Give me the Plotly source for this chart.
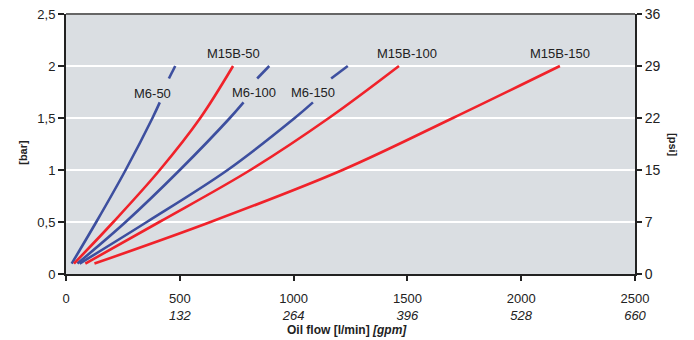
import plotly.graph_objects as go

# ---- data ----
flow_ticks = [0, 500, 1000, 1500, 2000, 2500]
gpm_ticks = ["", "132", "264", "396", "528", "660"]
bar_ticks = [0, 0.5, 1, 1.5, 2, 2.5]
bar_tick_text = ["0", "0,5", "1", "1,5", "2", "2,5"]
psi_tick_text = ["0", "7", "15", "22", "29", "36"]

# blue (M6) curves: solid part and short dashed part near top
m6_bar_solid = [0.1, 0.5, 1.0, 1.5, 1.65]
m6_bar_dash = [1.88, 2.0]
m6_50_flow = [25, 133, 262, 380, 412]
m6_50_dash = [452, 480]
m6_100_flow = [50, 262, 500, 720, 780]
m6_100_dash = [840, 893]
m6_150_flow = [60, 355, 710, 1005, 1085]
m6_150_dash = [1165, 1238]

# red (M15B) curves
m15_bar = [0.1, 0.5, 1.0, 1.5, 2.0]
m15b_50_flow = [35, 208, 412, 590, 734]
m15b_100_flow = [85, 410, 810, 1155, 1463]
m15b_150_flow = [125, 635, 1215, 1700, 2170]

label_names = ["M6-50", "M15B-50", "M6-100", "M6-150", "M15B-100", "M15B-150"]
label_x = [378, 734, 826, 1086, 1498, 2170]
label_y = [1.74, 2.12, 1.75, 1.75, 2.12, 2.12]

BLUE = "#3d4f9f"
RED = "#f0222a"
FONT = "Liberation Sans, Arial, sans-serif"

fig = go.Figure()

for fl, dash in [(m6_50_flow, m6_50_dash), (m6_100_flow, m6_100_dash), (m6_150_flow, m6_150_dash)]:
    fig.add_trace(go.Scatter(x=fl, y=m6_bar_solid, mode="lines",
                             line=dict(color=BLUE, width=2.6, shape="spline", smoothing=1),
                             showlegend=False, hoverinfo="skip"))
    fig.add_trace(go.Scatter(x=dash, y=m6_bar_dash, mode="lines",
                             line=dict(color=BLUE, width=2.6),
                             showlegend=False, hoverinfo="skip"))

for fl in [m15b_50_flow, m15b_100_flow, m15b_150_flow]:
    fig.add_trace(go.Scatter(x=fl, y=m15_bar, mode="lines",
                             line=dict(color=RED, width=2.6, shape="spline", smoothing=1),
                             showlegend=False, hoverinfo="skip"))

# invisible trace to activate right axis
fig.add_trace(go.Scatter(x=[0], y=[0], yaxis="y2", mode="markers",
                         marker=dict(opacity=0), showlegend=False, hoverinfo="skip"))

for name, lx, ly in zip(label_names, label_x, label_y):
    fig.add_annotation(x=lx, y=ly, text=name, showarrow=False,
                       xanchor="center", yanchor="middle",
                       font=dict(family=FONT, size=13, color="#222"))

x_tick_text = [f"{f}" if g == "" else f"{f}<br><i>{g}</i>" for f, g in zip(flow_ticks, gpm_ticks)]

fig.update_layout(
    width=694, height=340,
    margin=dict(l=66, r=59, t=14, b=66),
    paper_bgcolor="white",
    plot_bgcolor="#dadee2",
    font=dict(family=FONT, size=13, color="#222"),
    xaxis=dict(range=[0, 2500], tickvals=flow_ticks, ticktext=x_tick_text,
               showgrid=False, zeroline=False, showline=True, linecolor="#222",
               linewidth=2, ticks="outside", ticklen=5, tickwidth=2, tickcolor="#222",
               tickfont=dict(size=13), automargin=False, ticklabelstandoff=6),
    yaxis=dict(range=[0, 2.5], tickvals=bar_ticks, ticktext=bar_tick_text,
               showgrid=True, gridcolor="white", gridwidth=2, zeroline=False,
               showline=True, linecolor="#222", linewidth=2, ticks="outside",
               ticklen=6, tickwidth=2, tickcolor="#222", tickfont=dict(size=13),
               automargin=False),
    yaxis2=dict(range=[0, 2.5], tickvals=bar_ticks, ticktext=psi_tick_text,
                overlaying="y", side="right", showgrid=False, zeroline=False,
                showline=True, linecolor="#222", linewidth=2, ticks="outside",
                ticklen=5, tickwidth=2, tickcolor="#222", tickfont=dict(size=14),
                automargin=False),
)

fig.add_shape(type="line", xref="paper", yref="paper", x0=0, x1=1, y0=1, y1=1,
              line=dict(color="#666", width=2))

fig.add_annotation(xref="paper", yref="paper", x=-0.0756, y=0.47, text="<b>[bar]</b>",
                   textangle=-90, showarrow=False, xanchor="center", yanchor="middle",
                   font=dict(family=FONT, size=11, color="#222"))
fig.add_annotation(xref="paper", yref="paper", x=1.0668, y=0.496, text="<b>[psi]</b>",
                   textangle=90, showarrow=False, xanchor="center", yanchor="middle",
                   font=dict(family=FONT, size=11, color="#222"))
fig.add_annotation(xref="paper", yref="paper", x=0.494, y=-0.215,
                   text="<b>Oil flow [l/min] <i>[gpm]</i></b>",
                   showarrow=False, xanchor="center", yanchor="middle",
                   font=dict(family=FONT, size=12, color="#222"))

fig.write_html("out.html", config={"displayModeBar": False},
               post_script="document.body.style.margin='0';document.body.style.overflow='hidden';")
